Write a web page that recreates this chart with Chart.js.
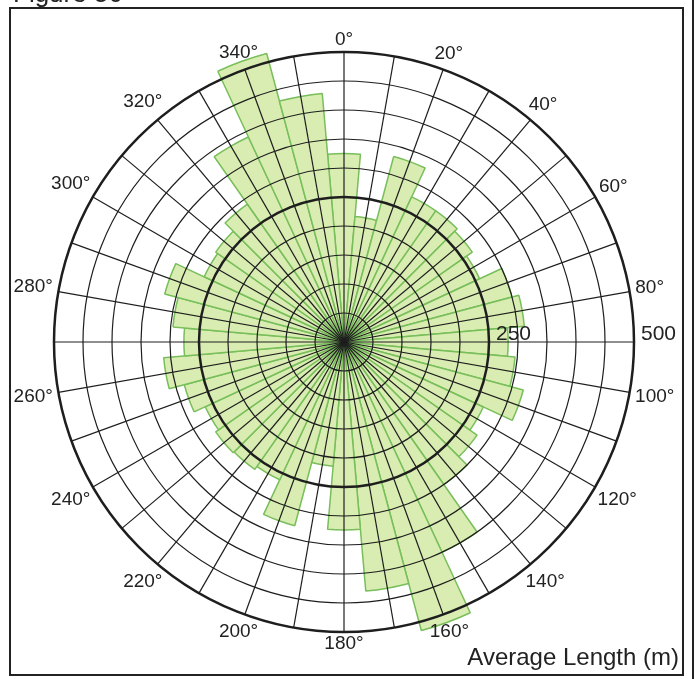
<!DOCTYPE html>
<html lang="en">
<head>
<meta charset="UTF-8">
<title>Average Length (m)</title>
<script src="https://cdn.jsdelivr.net/npm/chart.js"></script>
<style>
  html, body { margin: 0; padding: 0; background: #fff; }
  #wrap { width: 696px; height: 679px; }
</style>
</head>
<body>
<div id="wrap"><canvas id="roseChart" width="696" height="679"></canvas></div>
<script>
// bin centres (deg, clockwise from north), each bin 10 deg wide
const directions = [0, 10, 20, 30, 40, 50, 60, 70, 80, 90, 100, 110,
                    120, 130, 140, 150, 160, 170, 180, 190, 200, 210, 220, 230,
                    240, 250, 260, 270, 280, 290, 300, 310, 320, 330, 340, 350];
// average length per bin (m)
const avgLength = [325, 217, 331, 276, 276, 270, 258, 300, 312, 283, 296, 320,
                   265, 280, 300, 400, 515, 431, 324, 215, 328, 262, 268, 270,
                   264, 285, 312, 276, 296, 320, 266, 270, 290, 390, 515, 430];
// labelled directions round the rim
const labelDirections = [0, 20, 40, 60, 80, 100, 120, 140, 160, 180, 200, 220, 240, 260, 280, 300, 320, 340];
// labelled rings
const ringLabels = [250, 500];

const fontFamily = '"Liberation Sans", Arial, Helvetica, sans-serif';

const annotate = {
    id: 'annotate',
    afterDraw(chart) {
        const ctx = chart.ctx;
        const s = chart.scales.grid;
        const R = s.getDistanceFromCenterForValue(500);
        ctx.save();
        ctx.fillStyle = '#222';

        // direction labels
        ctx.font = '19px ' + fontFamily;
        ctx.textAlign = 'center';
        ctx.textBaseline = 'middle';
        labelDirections.forEach(function (d) {
            const txt = d + '°';
            const w = ctx.measureText(txt).width;
            const a = d * Math.PI / 180;
            const pad = 5 + Math.abs(Math.sin(a)) * w / 2 + Math.abs(Math.cos(a)) * 7;
            const p = s.getPointPosition(directions.indexOf(d), R + pad);
            ctx.fillText(txt, p.x, p.y);
        });

        // ring labels along 90 deg
        ctx.font = '21px ' + fontFamily;
        ctx.textAlign = 'left';
        ctx.textBaseline = 'alphabetic';
        ringLabels.forEach(function (v) {
            const p = s.getPointPosition(directions.indexOf(90), s.getDistanceFromCenterForValue(v));
            ctx.fillText(String(v), p.x + 7, p.y - 2);
        });

        // axis title
        ctx.font = '24px ' + fontFamily;
        ctx.textAlign = 'right';
        ctx.fillText('Average Length (m)', 679, 665);

        // cut-off heading at the top
        ctx.textAlign = 'left';
        ctx.font = '26px ' + fontFamily;
        ctx.fillText('Figure 50', 13, 2);

        // frame
        ctx.strokeStyle = '#222';
        ctx.lineWidth = 2;
        ctx.strokeRect(10, 8, 673, 667);
        ctx.beginPath();
        ctx.moveTo(693, 0);
        ctx.lineTo(693, 679);
        ctx.stroke();
        ctx.restore();
    }
};

const rose = new Chart(document.getElementById('roseChart'), {
    type: 'polarArea',
    data: {
        labels: directions.map(d => d + '°'),
        datasets: [{
            label: 'Average Length (m)',
            data: avgLength,
            rAxisID: 'r',
            backgroundColor: 'rgb(217, 237, 178)',
            borderColor: 'rgb(120, 190, 90)',
            borderWidth: 1.5
        }]
    },
    options: {
        responsive: false,
        animation: false,
        layout: { padding: { left: 54, right: 62, top: 52, bottom: 47 } },
        plugins: {
            legend: { display: false },
            tooltip: { enabled: false }
        },
        scales: {
            // scale the bars use: rotated half a bin so bins are centred on the 10 deg lines
            r: {
                type: 'radialLinear',
                startAngle: -5,
                min: 0,
                max: 500,
                grid: { display: false },
                angleLines: { display: false },
                ticks: { display: false, stepSize: 50 },
                pointLabels: { display: false }
            },
            // the drawn grid: rings every 50 m, spokes every 10 deg, on top of the bars
            grid: {
                type: 'radialLinear',
                axis: 'r',
                startAngle: 0,
                min: 0,
                max: 500,
                grid: {
                    z: 1,
                    circular: true,
                    color: '#1e1e1e',
                    lineWidth: c => (c.tick && c.tick.value % 250 === 0 ? 2.5 : 1.2)
                },
                angleLines: { display: true, color: '#1e1e1e', lineWidth: 1.2 },
                ticks: { display: false, stepSize: 50 },
                pointLabels: { display: false }
            }
        }
    },
    plugins: [annotate]
});
</script>
</body>
</html>
